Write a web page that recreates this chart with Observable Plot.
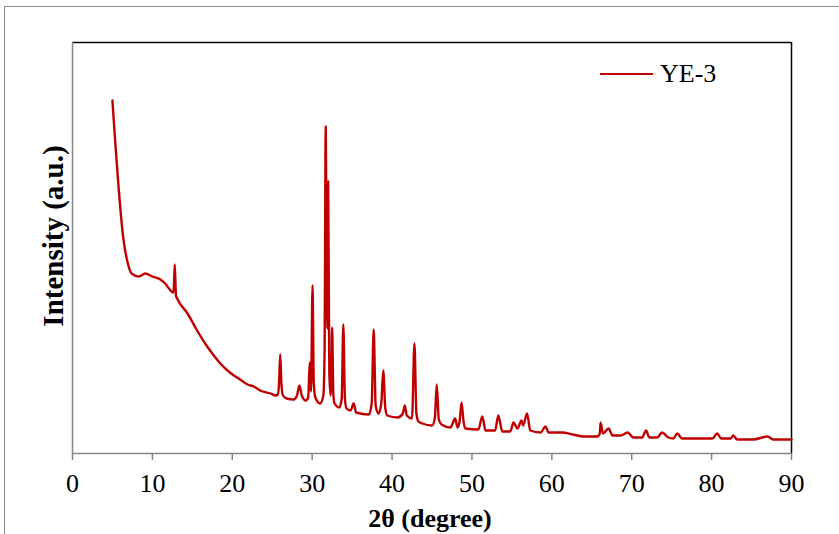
<!DOCTYPE html>
<html>
<head>
<meta charset="utf-8">
<script src="https://cdn.jsdelivr.net/npm/d3@7"></script>
<script src="https://cdn.jsdelivr.net/npm/@observablehq/plot@0.6"></script>
<style>
  html, body { margin: 0; padding: 0; background: #fff; }
  #wrap { position: relative; width: 839px; height: 534px; overflow: hidden; font-family: "Liberation Serif", "Times New Roman", serif; }
  #frame { position: absolute; left: 4px; top: 6px; width: 900px; height: 600px; border: 1.5px solid #8c8c8c; box-sizing: border-box; }
  #chart { position: absolute; left: 0; top: 0; }
  .ytitle { position: absolute; left: 53px; top: 236px; transform: translate(-50%, -50%) rotate(-90deg); font-weight: bold; font-size: 29px; white-space: nowrap; }
  .xtitle { position: absolute; left: 430px; top: 519px; transform: translate(-50%, -50%); font-weight: bold; font-size: 26px; white-space: nowrap; }
  .legend { position: absolute; left: 600px; top: 74px; transform: translateY(-50%); display: flex; align-items: center; font-size: 26px; }
  .legend .sw { width: 53px; height: 0; border-top: 2.5px solid #C00000; margin-right: 7px; }
</style>
</head>
<body>
<div id="wrap">
  <div id="frame"></div>
  <div id="chart"></div>
  <div class="ytitle">Intensity (a.u.)</div>
  <div class="xtitle">2θ (degree)</div>
  <div class="legend"><span class="sw"></span><span>YE-3</span></div>
</div>
<script>
const seriesName = "YE-3";
const xTicks = [0, 10, 20, 30, 40, 50, 60, 70, 80, 90];
const twoTheta = [5.0,6.4,6.9,7.4,8.3,9.1,10.0,11.0,11.6,12.4,12.65,12.8,12.95,13.1,14.4,15.6,16.6,17.5,18.5,19.4,20.2,20.8,21.9,22.7,23.5,24.8,25.4,25.7,25.85,26.0,26.15,26.35,26.8,27.7,28.1,28.4,28.7,29.2,29.5,29.7,29.85,30.05,30.2,30.4,31.0,31.4,31.55,31.7,31.85,31.9,32.0,32.15,32.3,32.4,32.5,32.65,32.8,33.4,33.7,33.9,34.1,34.3,34.8,35.2,35.5,37.1,37.45,37.7,37.95,38.3,38.65,38.9,39.15,39.4,40.7,41.35,41.6,41.85,42.5,42.8,43.05,43.3,43.8,45.0,45.35,45.6,45.85,46.2,47.3,47.9,48.2,48.45,48.7,48.95,49.2,50.8,51.3,51.7,52.9,53.3,53.8,54.8,55.2,55.7,56.2,56.4,56.9,57.3,58.6,59.2,59.6,61.3,62.6,64.0,65.7,66.0,66.1,66.4,67.1,67.6,68.6,69.5,70.2,71.3,71.8,72.2,73.2,73.8,74.6,75.2,75.7,76.3,77.7,80.1,80.7,81.2,82.4,82.7,83.2,85.2,87.0,87.7,90.0];
const intensity = [353,213,191,180,177,180,177,174,170,162,161,189,158,155,140,123,110,100,90,83,78,75,69,67,63,60,58,59,70,99,70,58,55,54,58,68,58,53,56,91,62,168,70,56,50,58,100,327,150,125,272,80,58,70,126,60,50,46,55,129,55,45,43,50,41,39,50,124,48,40,50,83,46,38,36,40,48,38,35,110,40,32,30,28,35,69,34,29,26,35,26,32,51,32,25,24,37,23,23,38,22,22,31,25,33,28,40,23,21,27,21,21,19,17,17,20,31,20,25,18,18,21,16,16,23,16,16,21,16,15,20,15,15,15,20,15,15,18,14,14,17,14,14];
const yDomain = [0, 411];

const data = twoTheta.map((t, i) => ({t, v: intensity[i]}));

const chart = Plot.plot({
  width: 839,
  height: 534,
  marginLeft: 72,
  marginRight: 48,
  marginTop: 42,
  marginBottom: 81,
  style: { fontFamily: "'Liberation Serif', 'Times New Roman', serif", background: "transparent", overflow: "visible" },
  x: { domain: [0, 90] },
  y: { domain: yDomain },
  marks: [
    Plot.ruleY([yDomain[1]], { stroke: "#000", strokeWidth: 1.5 }),
    Plot.ruleX([90], { stroke: "#000", strokeWidth: 1.5 }),
    Plot.ruleX([0], { stroke: "#868686", strokeWidth: 1.5 }),
    Plot.ruleY([0], { stroke: "#868686", strokeWidth: 1.5 }),
    Plot.axisX({ ticks: xTicks, tickSize: 7, tickPadding: 13, fontSize: 26, stroke: "#868686", strokeWidth: 1.5, label: null, tickFormat: d => String(d) }),
    Plot.axisY({ ticks: [], label: null }),
    Plot.line(data, { x: "t", y: "v", stroke: "#C00000", strokeWidth: 2.4, strokeLinejoin: "round", curve: "monotone-x" })
  ]
});
document.getElementById("chart").appendChild(chart);
</script>
</body>
</html>
